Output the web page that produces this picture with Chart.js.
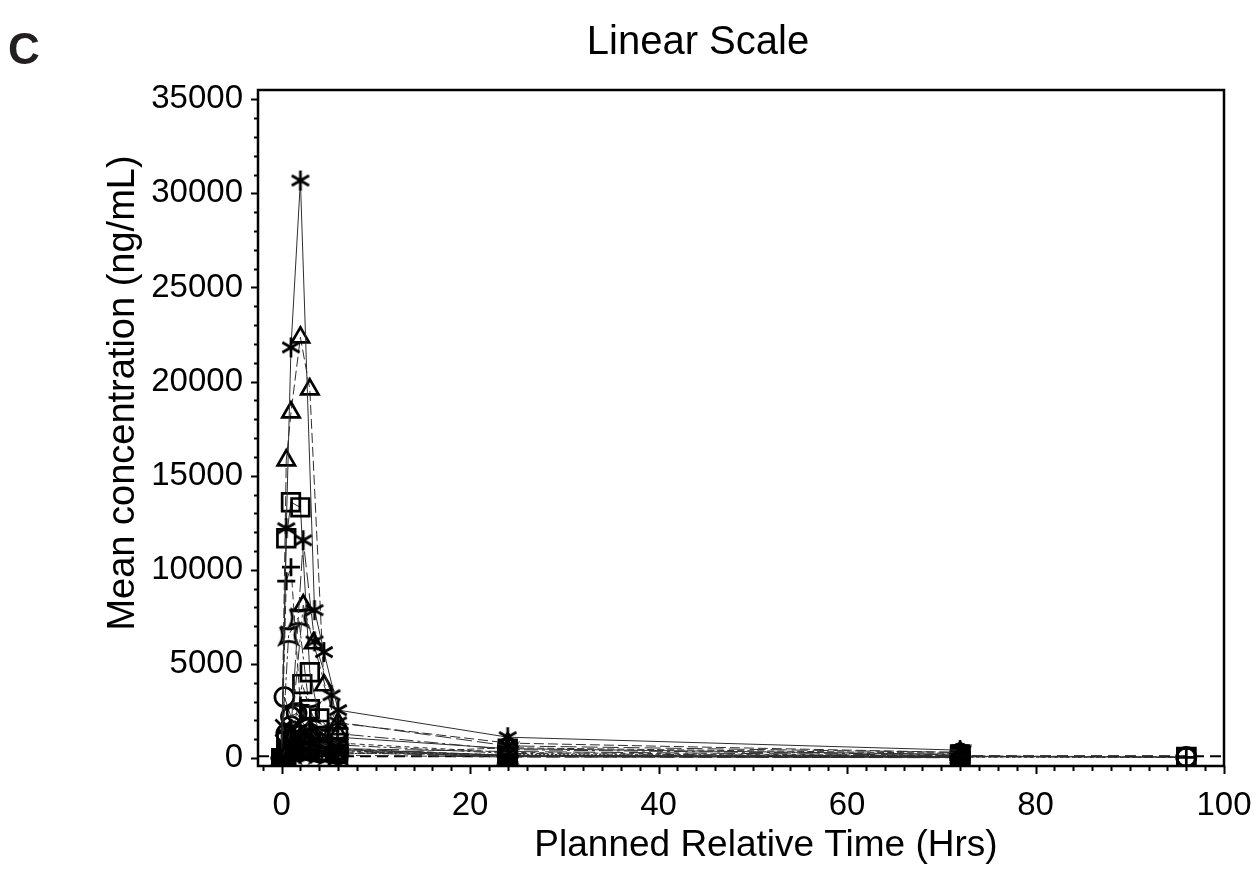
<!DOCTYPE html>
<html>
<head>
<meta charset="utf-8">
<script src="https://cdn.jsdelivr.net/npm/chart.js@4.4.0/dist/chart.umd.min.js"></script>
<style>
  html, body { margin: 0; padding: 0; background: #fff; }
  #wrap { width: 1259px; height: 870px; }
</style>
</head>
<body>
<div id="wrap"><canvas id="pkLinear" width="1259" height="870"></canvas></div>
<script>
// planned relative time (hrs) and mean concentration (ng/mL), one pair per cohort
const time1 = [0, 0.5, 1, 2, 3.5, 4.5, 6, 24, 72];
const conc1 = [0, 12210, 21815, 30680, 7860, 5630, 2550, 1110, 420];
const time2 = [0, 0.5, 1, 2.3, 3.5, 5.3, 6, 24, 72];
const conc2 = [0, 600, 1500, 11570, 6200, 3340, 1900, 650, 300];
const time3 = [0, 0.5, 1, 2, 3, 4.5, 6, 24, 72];
const conc3 = [0, 15820, 18370, 22350, 19590, 3870, 1860, 800, 300];
const time4 = [0, 0.5, 1, 2.3, 3.4, 6, 24, 72];
const conc4 = [0, 500, 1200, 8120, 6100, 1300, 450, 180];
const time5 = [0, 0.5, 1, 2, 3, 4, 6, 24, 72];
const conc5 = [0, 11680, 13590, 13320, 4560, 2100, 1110, 500, 200];
const time6 = [0, 0.5, 1, 2.2, 3, 4, 6, 24, 72, 96];
const conc6 = [0, 400, 900, 3930, 2600, 1500, 800, 300, 120, 60];
const time7 = [0, 0.5, 1, 2, 3, 4, 6, 24, 72, 96];
const conc7 = [0, 9400, 10140, 2800, 1500, 900, 500, 150, 70, 40];
const time8 = [0, 0.75, 1.8, 3, 4, 6, 24, 72];
const conc8 = [0, 6530, 7480, 2400, 1300, 700, 250, 90];
const time9 = [0, 0.3, 1, 1.6, 3, 4, 6, 24, 72, 96];
const conc9 = [0, 3240, 2200, 2390, 1300, 800, 450, 150, 90, 60];
const time10 = [0, 0.5, 1, 2, 3, 5, 6, 24, 72, 96];
const conc10 = [0, 1300, 1700, 1200, 900, 600, 400, 100, 50, 30];
const time11 = [0, 0.25, 0.5, 1, 2, 3, 4, 6, 24, 72];
const conc11 = [0, 1600, 1100, 900, 700, 600, 450, 300, 80, 40];
const time12 = [0, 0.5, 1, 2, 3, 4, 6, 24, 72];
const conc12 = [0, 200, 500, 900, 700, 500, 350, 100, 50];
const time13 = [0, 0.5, 1, 2, 3, 4, 6, 24, 72];
const conc13 = [0, 300, 700, 1100, 1500, 1000, 500, 120, 60];
const time14 = [0, 0.5, 1, 2, 3, 4, 5, 6, 24, 72];
const conc14 = [0, 150, 400, 600, 800, 600, 1000, 400, 90, 40];
const time15 = [0, 0.5, 1, 2, 3, 4, 5, 6, 24, 72];
const conc15 = [0, 700, 1000, 1300, 1100, 900, 700, 500, 350, 150];
const time16 = [0, 0.5, 1, 1.5, 2, 3, 4, 6, 24, 72];
const conc16 = [0, 250, 450, 550, 500, 400, 300, 200, 550, 250];
const time17 = [0, 0.5, 1, 2, 3, 4, 6, 24, 72, 96];
const conc17 = [0, 900, 800, 650, 500, 350, 250, 200, 100, 50];
const time18 = [0, 0.5, 1, 2, 3, 4, 5, 6, 24, 72];
const conc18 = [0, 100, 250, 350, 300, 250, 200, 150, 60, 20];

const refLevel = 100;
const xTicks = [0, 20, 40, 60, 80, 100];
const yTicks = [0, 5000, 10000, 15000, 20000, 25000, 30000, 35000];

const xMin = -2.5, xMax = 100, yMin = -420, yMax = 35490;
const FONT = "'Liberation Sans', Arial, sans-serif";

function makeMarker(kind, size) {
    const c = document.createElement('canvas');
    c.width = size; c.height = size;
    const g = c.getContext('2d');
    const m = size / 2, r = size / 2 - 2;
    g.strokeStyle = '#000';
    g.lineWidth = 2.7;
    g.beginPath();
    if (kind === 'asterisk') {
        for (const a of [90, 30, 150]) {
            const rad = a * Math.PI / 180;
            g.moveTo(m - r * Math.cos(rad), m - r * Math.sin(rad));
            g.lineTo(m + r * Math.cos(rad), m + r * Math.sin(rad));
        }
    } else if (kind === 'pinch') {
        const k = r * 0.85, b = k * 0.45;
        g.moveTo(m - k, m - k);
        g.quadraticCurveTo(m, m - b, m + k, m - k);
        g.quadraticCurveTo(m + b, m, m + k, m + k);
        g.quadraticCurveTo(m, m + b, m - k, m + k);
        g.quadraticCurveTo(m - b, m, m - k, m - k);
    }
    g.stroke();
    return c;
}

const asterisk = makeMarker('asterisk', 24);
const pinch = makeMarker('pinch', 24);

const cohorts = [
    [time1, conc1, asterisk, 10, []],
    [time2, conc2, asterisk, 10, [16, 5]],
    [time3, conc3, 'triangle', 10, [10, 4]],
    [time4, conc4, 'triangle', 10, [14, 4, 3, 4]],
    [time5, conc5, 'rect', 12.5, []],
    [time6, conc6, 'rect', 12.5, [5, 4]],
    [time7, conc7, 'cross', 9, [8, 4]],
    [time8, conc8, pinch, 10, [12, 3, 3, 3]],
    [time9, conc9, 'circle', 9.5, []],
    [time10, conc10, 'circle', 9.5, [3, 3]],
    [time11, conc11, 'crossRot', 12, [18, 5]],
    [time12, conc12, asterisk, 10, [6, 3, 2, 3]],
    [time13, conc13, 'triangle', 10, [9, 6]],
    [time14, conc14, 'rect', 12.5, [20, 4, 4, 4]],
    [time15, conc15, asterisk, 10, [22, 6]],
    [time16, conc16, 'circle', 9.5, [7, 3]],
    [time17, conc17, 'rect', 12.5, [2, 2]],
    [time18, conc18, pinch, 10, [14, 5]]
];

const datasets = cohorts.map(([t, c, style, radius, dash], i) => ({
    label: 'Cohort ' + (i + 1),
    data: t.map((x, j) => ({ x: x, y: c[j] })),
    showLine: true,
    borderColor: '#2e2e2e',
    borderWidth: 1,
    borderDash: dash,
    pointStyle: style,
    pointRadius: radius,
    pointHoverRadius: radius,
    pointBorderColor: '#000',
    pointBackgroundColor: 'rgba(0,0,0,0)',
    pointBorderWidth: 2.7,
    tension: 0
}));

datasets.push({
    label: 'Reference',
    data: [{ x: xMin, y: refLevel }, { x: xMax, y: refLevel }],
    showLine: true,
    borderColor: '#000',
    borderWidth: 2,
    borderDash: [11, 6],
    pointRadius: 0
});

const framePlugin = {
    id: 'frame',
    afterDraw(chart) {
        const ctx = chart.ctx;
        const a = chart.chartArea;
        const xs = chart.scales.x, ys = chart.scales.y;
        ctx.save();
        ctx.strokeStyle = '#000';
        ctx.lineWidth = 2.5;
        ctx.strokeRect(a.left, a.top, a.right - a.left, a.bottom - a.top);

        ctx.lineWidth = 2;
        ctx.beginPath();
        for (let v = 0; v <= 35000; v += 1000) {
            const y = Math.round(ys.getPixelForValue(v)) + 0.5;
            const len = v % 5000 === 0 ? 7 : 4;
            ctx.moveTo(a.left - len, y);
            ctx.lineTo(a.left, y);
        }
        for (let v = -2; v <= 100; v += 2) {
            const x = Math.round(xs.getPixelForValue(v)) + 0.5;
            const len = v % 20 === 0 ? 8 : 5;
            ctx.moveTo(x, a.bottom);
            ctx.lineTo(x, a.bottom + len);
        }
        ctx.stroke();

        ctx.fillStyle = '#231f20';
        ctx.textBaseline = 'alphabetic';
        ctx.textAlign = 'left';
        ctx.font = 'bold 44px ' + FONT;
        ctx.fillText('C', 8, 64);

        ctx.fillStyle = '#000';
        ctx.textAlign = 'center';
        ctx.font = '40px ' + FONT;
        ctx.fillText('Linear Scale', 698, 54);
        ctx.font = '37px ' + FONT;
        ctx.fillText('Planned Relative Time (Hrs)', 766, 856);

        ctx.font = '38px ' + FONT;
        ctx.translate(134, 393);
        ctx.rotate(-Math.PI / 2);
        ctx.fillText('Mean concentration (ng/mL)', 0, 0);
        ctx.restore();
    }
};

const tickFont = { family: FONT, size: 33 };

const configChart = {
    type: 'scatter',
    data: { datasets: datasets },
    options: {
        responsive: false,
        animation: false,
        layout: { padding: { top: 90, right: 35, left: 0, bottom: 0 } },
        plugins: {
            legend: { display: false },
            title: { display: false },
            tooltip: { enabled: false }
        },
        scales: {
            x: {
                type: 'linear',
                bounds: 'data',
                min: xMin,
                max: xMax,
                afterBuildTicks: s => { s.ticks = xTicks.map(v => ({ value: v })); },
                afterFit: s => { s.height = 104; s.paddingLeft = 0; s.paddingRight = 0; },
                border: { display: false },
                grid: { drawOnChartArea: false, drawTicks: false },
                ticks: {
                    autoSkip: false, maxRotation: 0, padding: 20,
                    color: '#000', font: tickFont,
                    callback: v => String(v)
                }
            },
            y: {
                type: 'linear',
                bounds: 'data',
                min: yMin,
                max: yMax,
                afterBuildTicks: s => { s.ticks = yTicks.map(v => ({ value: v })); },
                afterFit: s => { s.width = 258; s.paddingTop = 0; s.paddingBottom = 0; },
                border: { display: false },
                grid: { drawOnChartArea: false, drawTicks: false },
                ticks: {
                    autoSkip: false, padding: 15,
                    color: '#000', font: tickFont,
                    callback: v => String(v)
                }
            }
        }
    },
    plugins: [framePlugin]
};

let chart = new Chart(document.getElementById('pkLinear'), configChart);
</script>
</body>
</html>
